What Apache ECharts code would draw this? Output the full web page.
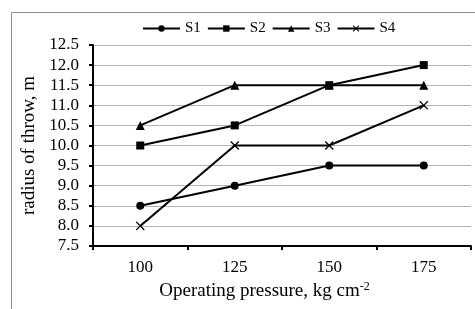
<!DOCTYPE html>
<html>
<head>
<meta charset="utf-8">
<script src="https://cdn.jsdelivr.net/npm/echarts@6/dist/echarts.min.js"></script>
<style>
  html, body { margin: 0; padding: 0; background: #fff; }
  #chart { width: 475px; height: 309px; }
</style>
</head>
<body>
<div id="chart"></div>
<script>
// 数据
var categories = ["100", "125", "150", "175"];
var s1 = [8.5, 9.0, 9.5, 9.5];
var s2 = [10.0, 10.5, 11.5, 12.0];
var s3 = [10.5, 11.5, 11.5, 11.5];
var s4 = [8.0, 10.0, 10.0, 11.0];

(function() {
    var myChart = echarts.init(document.getElementById("chart"));
    var font = "Liberation Serif";
    // 叉号标记
    var cross = "path://M0,1L1,0L5,4L9,0L10,1L6,5L10,9L9,10L5,6L1,10L0,9L4,5Z";

    function makeSeries(name, data, symbol, size) {
        return {
            name: name,
            type: "line",
            data: data,
            symbol: symbol,
            symbolSize: size,
            showAllSymbol: true,
            lineStyle: { color: "#000", width: 2 },
            itemStyle: { color: "#000" },
            emphasis: { disabled: true }
        };
    }

    var option = {
        animation: false,
        textStyle: { fontFamily: font },
        graphic: [{
            type: "rect",
            shape: { x: 11.5, y: 12.5, width: 600, height: 400 },
            style: { fill: "none", stroke: "#8c8c8c", lineWidth: 1 },
            silent: true
        }],
        legend: {
            top: 16,
            left: 137,
            itemWidth: 37,
            itemHeight: 8,
            itemGap: 6,
            lineStyle: { width: 2, color: "#000" },
            textStyle: { fontFamily: font, fontSize: 15, color: "#000" },
            data: ["S1", "S2", "S3", "S4"]
        },
        grid: {
            left: 93,
            right: 4,
            top: 45,
            bottom: 63,
            containLabel: false
        },
        xAxis: {
            type: "category",
            data: categories,
            boundaryGap: true,
            name: "Operating pressure, kg cm{sup|-2}",
            nameLocation: "middle",
            nameGap: 31,
            nameTextStyle: {
                fontFamily: font,
                fontSize: 19,
                color: "#000",
                padding: [0, 35, 0, 0],
                rich: {
                    sup: { fontFamily: font, fontSize: 12, color: "#000", verticalAlign: "top", padding: [0, 0, 9, 0] }
                }
            },
            axisLine: { lineStyle: { color: "#000", width: 2 } },
            axisTick: { show: true, length: 4, lineStyle: { color: "#000", width: 2 } },
            axisLabel: { color: "#000", fontFamily: font, fontSize: 17, margin: 13 },
            splitLine: { show: false }
        },
        yAxis: {
            type: "value",
            min: 7.5,
            max: 12.5,
            interval: 0.5,
            name: "radius of throw, m",
            nameLocation: "middle",
            nameGap: 53,
            nameTextStyle: { fontFamily: font, fontSize: 19, color: "#000" },
            axisLine: { show: true, lineStyle: { color: "#000", width: 2 } },
            axisTick: { show: true, length: 4, lineStyle: { color: "#000", width: 2 } },
            axisLabel: {
                color: "#000",
                fontFamily: font,
                fontSize: 17,
                margin: 14,
                formatter: function(v) { return v.toFixed(1); }
            },
            splitLine: { lineStyle: { color: "#b4b4b4", width: 1 } }
        },
        series: [
            makeSeries("S1", s1, "circle", 8),
            makeSeries("S2", s2, "rect", 8),
            makeSeries("S3", s3, "triangle", 9),
            makeSeries("S4", s4, cross, 9)
        ]
    };

    myChart.setOption(option);
    window.addEventListener("resize", function() {
        myChart.resize();
    });
})();
</script>
</body>
</html>
